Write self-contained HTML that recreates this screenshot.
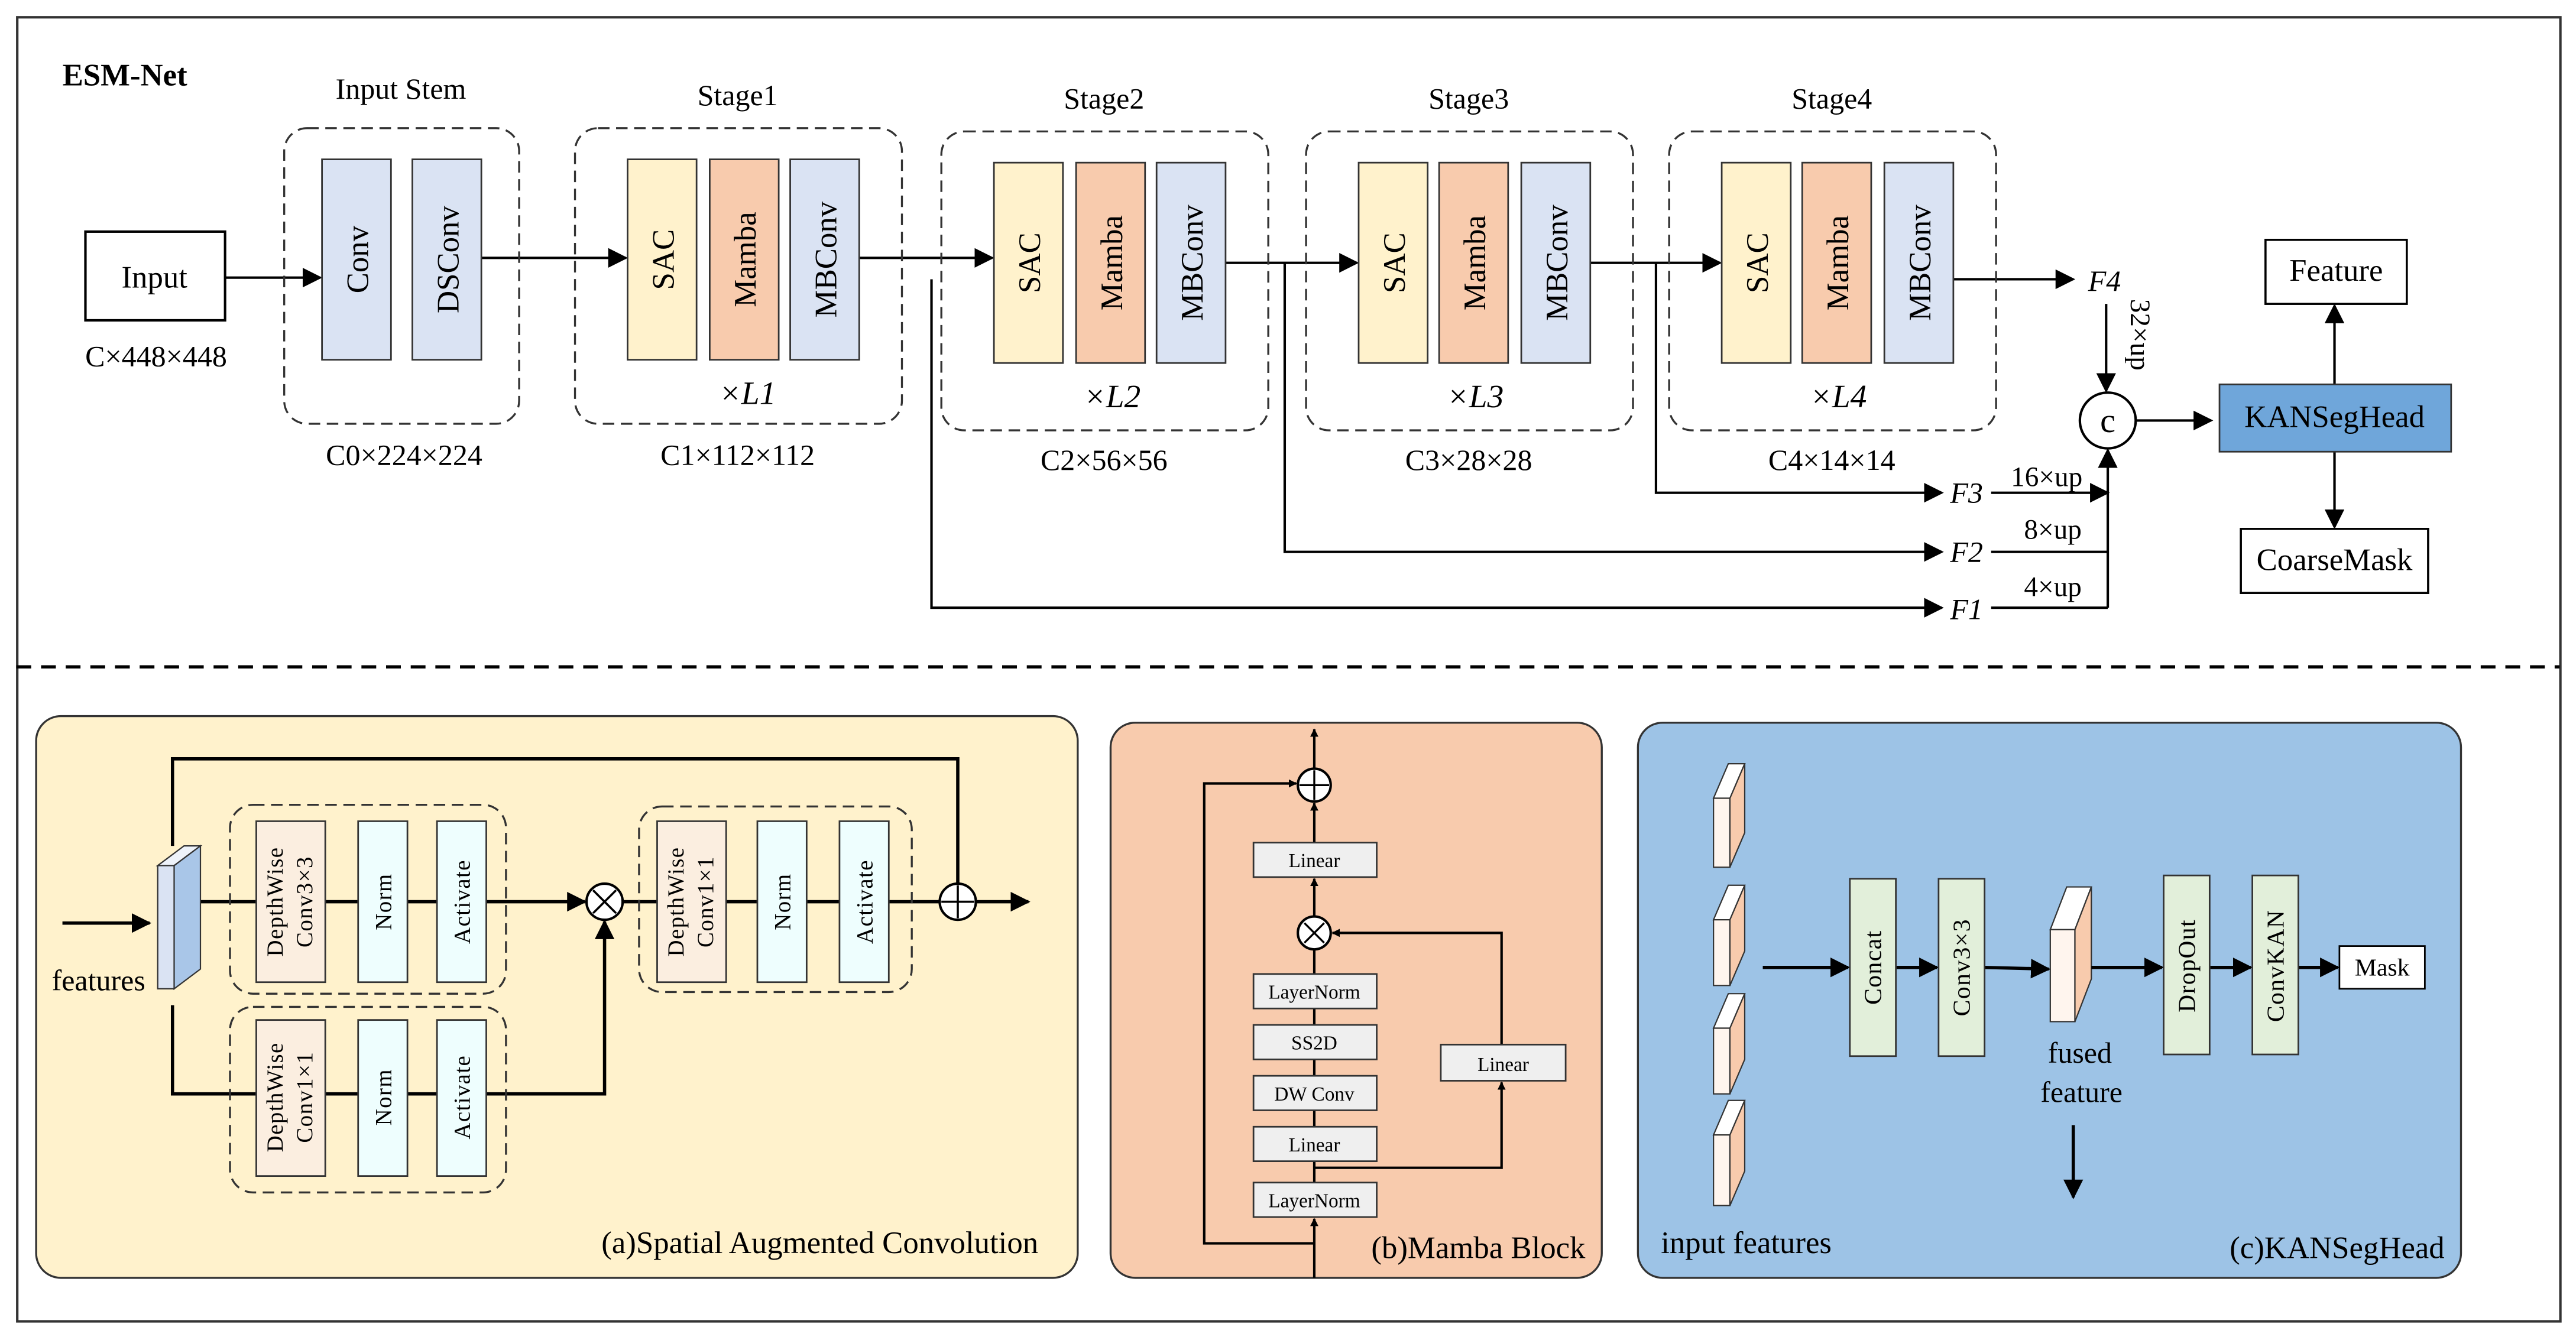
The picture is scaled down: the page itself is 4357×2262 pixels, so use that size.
<!DOCTYPE html>
<html><head><meta charset="utf-8"><style>html,body{margin:0;padding:0;background:#fff}svg{display:block}svg,svg text{font-family:"Liberation Serif",serif}</style></head><body>
<svg xmlns="http://www.w3.org/2000/svg" width="4357" height="2262" viewBox="0 0 1568 814" font-family="Liberation Serif, serif">
<defs>
<marker id="a" viewBox="0 0 10 10" refX="9" refY="5" markerWidth="5" markerHeight="5" orient="auto-start-reverse" markerUnits="userSpaceOnUse"><path d="M0,0 L10,5 L0,10 z" fill="#000"/></marker>
<marker id="b" viewBox="0 0 10 10" refX="9" refY="5" markerWidth="12" markerHeight="12" orient="auto" markerUnits="userSpaceOnUse"><path d="M0,0 L10,5 L0,10 z" fill="#000"/></marker>
</defs>
<rect x="0" y="0" width="1568" height="814" fill="#fff"/>
<rect x="10.5" y="10.5" width="1548" height="794" fill="none" stroke="#333" stroke-width="1.5"/>
<line x1="10" y1="406" x2="1558" y2="406" stroke="#000" stroke-width="2" stroke-dasharray="9,6"/>
<text x="38" y="52" font-size="19" font-weight="bold">ESM-Net</text>

<g stroke="#000" stroke-width="1.5" fill="none" marker-end="url(#b)">
<line x1="137" y1="169" x2="195" y2="169"/>
<line x1="293" y1="157" x2="381" y2="157"/>
<line x1="523" y1="157" x2="604" y2="157"/>
<line x1="746" y1="160" x2="826" y2="160"/>
<line x1="968" y1="160" x2="1047" y2="160"/>
<line x1="1189" y1="170" x2="1262" y2="170"/>
<polyline points="567,170 567,370 1182,370"/>
<polyline points="782,160 782,336 1182,336"/>
<polyline points="1008,160 1008,300 1182,300"/>
<line x1="1282" y1="185" x2="1282" y2="238"/>
<polyline points="1212,300 1283,300"/>
<line x1="1283" y1="370" x2="1283" y2="274"/>
<line x1="1300" y1="256" x2="1346" y2="256"/>
<line x1="1421" y1="234" x2="1421" y2="186"/>
<line x1="1421" y1="275" x2="1421" y2="321"/>
</g>
<g stroke="#000" stroke-width="1.5"><line x1="1212" y1="336" x2="1283" y2="336"/><line x1="1212" y1="370" x2="1283" y2="370"/></g>

<rect x="52" y="141" width="85" height="54" fill="#fff" stroke="#000" stroke-width="1.5"/>
<text x="94" y="175" font-size="19" text-anchor="middle">Input</text>
<text x="95" y="223" font-size="18" text-anchor="middle">C×448×448</text>

<g fill="none" stroke="#333" stroke-width="1.2" stroke-dasharray="7,4">
<rect x="173" y="78" width="143" height="180" rx="14"/>
<rect x="350" y="78" width="199" height="180" rx="14"/>
<rect x="573" y="80" width="199" height="182" rx="14"/>
<rect x="795" y="80" width="199" height="182" rx="14"/>
<rect x="1016" y="80" width="199" height="182" rx="14"/>
</g>
<g font-size="18" text-anchor="middle">
<text x="244" y="60">Input Stem</text><text x="449" y="64">Stage1</text><text x="672" y="66">Stage2</text><text x="894" y="66">Stage3</text><text x="1115" y="66">Stage4</text>
<text x="246" y="283">C0×224×224</text><text x="449" y="283">C1×112×112</text><text x="672" y="286">C2×56×56</text><text x="894" y="286">C3×28×28</text><text x="1115" y="286">C4×14×14</text>
<text x="455" y="246" font-style="italic" font-size="20">×L1</text><text x="677" y="248" font-style="italic" font-size="20">×L2</text><text x="898" y="248" font-style="italic" font-size="20">×L3</text><text x="1119" y="248" font-style="italic" font-size="20">×L4</text>
</g>
<g stroke="#333" stroke-width="1">
<rect x="196" y="97" width="42" height="122" fill="#dae3f3"/><rect x="251" y="97" width="42" height="122" fill="#dae3f3"/>
<rect x="382" y="97" width="42" height="122" fill="#fff2cc"/><rect x="432" y="97" width="42" height="122" fill="#f8cbad"/><rect x="481" y="97" width="42" height="122" fill="#dae3f3"/>
<rect x="605" y="99" width="42" height="122" fill="#fff2cc"/><rect x="655" y="99" width="42" height="122" fill="#f8cbad"/><rect x="704" y="99" width="42" height="122" fill="#dae3f3"/>
<rect x="827" y="99" width="42" height="122" fill="#fff2cc"/><rect x="876" y="99" width="42" height="122" fill="#f8cbad"/><rect x="926" y="99" width="42" height="122" fill="#dae3f3"/>
<rect x="1048" y="99" width="42" height="122" fill="#fff2cc"/><rect x="1097" y="99" width="42" height="122" fill="#f8cbad"/><rect x="1147" y="99" width="42" height="122" fill="#dae3f3"/>
</g>
<g font-size="19" text-anchor="middle">
<text transform="translate(224,158) rotate(-90)">Conv</text><text transform="translate(279,158) rotate(-90)">DSConv</text>
<text transform="translate(410,158) rotate(-90)">SAC</text><text transform="translate(460,158) rotate(-90)">Mamba</text><text transform="translate(509,158) rotate(-90)">MBConv</text>
<text transform="translate(633,160) rotate(-90)">SAC</text><text transform="translate(683,160) rotate(-90)">Mamba</text><text transform="translate(732,160) rotate(-90)">MBConv</text>
<text transform="translate(855,160) rotate(-90)">SAC</text><text transform="translate(904,160) rotate(-90)">Mamba</text><text transform="translate(954,160) rotate(-90)">MBConv</text>
<text transform="translate(1076,160) rotate(-90)">SAC</text><text transform="translate(1125,160) rotate(-90)">Mamba</text><text transform="translate(1175,160) rotate(-90)">MBConv</text>
</g>
<g font-size="18" font-style="italic">
<text x="1271" y="177">F4</text><text x="1187" y="306">F3</text><text x="1187" y="342">F2</text><text x="1187" y="377">F1</text>
</g>
<g font-size="17"><text x="1224" y="296">16×up</text><text x="1232" y="328">8×up</text><text x="1232" y="363">4×up</text>
<text transform="translate(1297,182) rotate(90)">32×up</text></g>
<circle cx="1283" cy="256" r="17" fill="#fff" stroke="#000" stroke-width="1.5"/>
<text x="1283" y="263" font-size="21" text-anchor="middle">c</text>
<rect x="1351" y="234" width="141" height="41" fill="#6fa6da" stroke="#333"/>
<text x="1421" y="260" font-size="19" text-anchor="middle">KANSegHead</text>
<rect x="1379" y="146" width="86" height="39" fill="#fff" stroke="#000" stroke-width="1.3"/>
<text x="1422" y="171" font-size="19" text-anchor="middle">Feature</text>
<rect x="1364" y="322" width="114" height="39" fill="#fff" stroke="#000" stroke-width="1.3"/>
<text x="1421" y="347" font-size="19" text-anchor="middle">CoarseMask</text>

<!-- Panel a -->
<rect x="22" y="436" width="634" height="342" rx="15" fill="#fff2cc" stroke="#333" stroke-width="1.2"/>
<g stroke="#000" stroke-width="2" fill="none">
<line x1="38" y1="562" x2="91" y2="562" marker-end="url(#b)"/>
<polyline points="105,515 105,462 583,462 583,538"/>
<line x1="122" y1="549" x2="356" y2="549" marker-end="url(#b)"/>
<polyline points="105,612 105,666 368,666 368,561" marker-end="url(#b)"/>
<line x1="379" y1="549" x2="572" y2="549"/>
<line x1="594" y1="549" x2="626" y2="549" marker-end="url(#b)"/>
</g>
<polygon points="96,527 112,515 122,515 106,527" fill="#eef3fa" stroke="#333" stroke-width="0.8"/>
<rect x="96" y="527" width="10" height="75" fill="#dae3f3" stroke="#333" stroke-width="0.8"/>
<polygon points="106,527 122,515 122,590 106,602" fill="#a9c6e8" stroke="#333" stroke-width="0.8"/>
<text x="60" y="603" font-size="18" text-anchor="middle">features</text>
<g fill="none" stroke="#333" stroke-width="1.2" stroke-dasharray="7,4">
<rect x="140" y="490" width="168" height="115" rx="14"/><rect x="140" y="613" width="168" height="113" rx="14"/><rect x="389" y="491" width="166" height="113" rx="14"/>
</g>
<g stroke="#333" stroke-width="1">
<rect x="156" y="500" width="42" height="98" fill="#fbeee0"/><rect x="218" y="500" width="30" height="98" fill="#eefefe"/><rect x="266" y="500" width="30" height="98" fill="#eefefe"/>
<rect x="156" y="621" width="42" height="95" fill="#fbeee0"/><rect x="218" y="621" width="30" height="95" fill="#eefefe"/><rect x="266" y="621" width="30" height="95" fill="#eefefe"/>
<rect x="400" y="500" width="42" height="98" fill="#fbeee0"/><rect x="461" y="500" width="30" height="98" fill="#eefefe"/><rect x="511" y="500" width="30" height="98" fill="#eefefe"/>
</g>
<g font-size="14" text-anchor="middle" letter-spacing="0.5">
<text transform="translate(172,549) rotate(-90)">DepthWise</text><text transform="translate(190,549) rotate(-90)">Conv3×3</text>
<text transform="translate(238,549) rotate(-90)">Norm</text><text transform="translate(286,549) rotate(-90)">Activate</text>
<text transform="translate(172,668) rotate(-90)">DepthWise</text><text transform="translate(190,668) rotate(-90)">Conv1×1</text>
<text transform="translate(238,668) rotate(-90)">Norm</text><text transform="translate(286,668) rotate(-90)">Activate</text>
<text transform="translate(416,549) rotate(-90)">DepthWise</text><text transform="translate(434,549) rotate(-90)">Conv1×1</text>
<text transform="translate(481,549) rotate(-90)">Norm</text><text transform="translate(531,549) rotate(-90)">Activate</text>
</g>
<circle cx="368" cy="549" r="11" fill="#fff" stroke="#000" stroke-width="1.5"/>
<path d="M361,542 L375,556 M375,542 L361,556" stroke="#000" stroke-width="1.3"/>
<circle cx="583" cy="549" r="11" fill="#fff" stroke="#000" stroke-width="1.5"/>
<path d="M573,549 H593 M583,539 V559" stroke="#000" stroke-width="1.3"/>
<text x="632" y="763" font-size="19" text-anchor="end">(a)Spatial Augmented Convolution</text>

<!-- Panel b -->
<rect x="676" y="440" width="299" height="338" rx="15" fill="#f8cbad" stroke="#333" stroke-width="1.2"/>
<g stroke="#000" stroke-width="1.5" fill="none">
<line x1="800" y1="778" x2="800" y2="742" marker-end="url(#a)"/>
<line x1="800" y1="741" x2="800" y2="558"/>
<line x1="800" y1="558" x2="800" y2="535" marker-end="url(#a)"/>
<line x1="800" y1="513" x2="800" y2="489" marker-end="url(#a)"/>
<line x1="800" y1="468" x2="800" y2="444" marker-end="url(#a)"/>
<polyline points="800,757 733,757 733,477 789,477" marker-end="url(#a)"/>
<polyline points="800,711 914,711 914,659" marker-end="url(#a)"/>
<polyline points="914,636 914,568 811,568" marker-end="url(#a)"/>
</g>
<g stroke="#333" stroke-width="1" fill="#efefef">
<rect x="763" y="513" width="75" height="21"/><rect x="763" y="593" width="75" height="21"/><rect x="763" y="624" width="75" height="21"/>
<rect x="763" y="655" width="75" height="21"/><rect x="763" y="686" width="75" height="21"/><rect x="763" y="720" width="75" height="21"/>
<rect x="877" y="636" width="76" height="22"/>
</g>
<g font-size="12" text-anchor="middle">
<text x="800" y="528">Linear</text><text x="800" y="608">LayerNorm</text><text x="800" y="639">SS2D</text><text x="800" y="670">DW Conv</text><text x="800" y="701">Linear</text><text x="800" y="735">LayerNorm</text><text x="915" y="652">Linear</text>
</g>
<circle cx="800" cy="568" r="10" fill="#fff" stroke="#000" stroke-width="1.5"/>
<path d="M794,562 L806,574 M806,562 L794,574" stroke="#000" stroke-width="1.2"/>
<circle cx="800" cy="478" r="10" fill="#fff" stroke="#000" stroke-width="1.5"/>
<path d="M791,478 H809 M800,469 V487" stroke="#000" stroke-width="1.2"/>
<text x="965" y="766" font-size="19" text-anchor="end">(b)Mamba Block</text>

<!-- Panel c -->
<rect x="997" y="440" width="501" height="338" rx="15" fill="#9dc3e6" stroke="#333" stroke-width="1.2"/>
<g stroke="#333" stroke-width="0.8">
<g><polygon points="1043,486 1052,465 1062,465 1053,486" fill="#fff"/><rect x="1043" y="486" width="10" height="42" fill="#fff5ee"/><polygon points="1053,486 1062,465 1062,507 1053,528" fill="#f8cbad"/></g>
<g><polygon points="1043,560 1052,539 1062,539 1053,560" fill="#fff"/><rect x="1043" y="560" width="10" height="40" fill="#fff5ee"/><polygon points="1053,560 1062,539 1062,579 1053,600" fill="#f8cbad"/></g>
<g><polygon points="1043,626 1052,605 1062,605 1053,626" fill="#fff"/><rect x="1043" y="626" width="10" height="40" fill="#fff5ee"/><polygon points="1053,626 1062,605 1062,645 1053,666" fill="#f8cbad"/></g>
<g><polygon points="1043,691 1052,670 1062,670 1053,691" fill="#fff"/><rect x="1043" y="691" width="10" height="43" fill="#fff5ee"/><polygon points="1053,691 1062,670 1062,713 1053,734" fill="#f8cbad"/></g>
<g><polygon points="1248,566 1258,540 1273,540 1263,566" fill="#fff"/><rect x="1248" y="566" width="15" height="56" fill="#fff5ee"/><polygon points="1263,566 1273,540 1273,596 1263,622" fill="#f8cbad"/></g>
</g>
<g stroke="#000" stroke-width="2" fill="none">
<line x1="1073" y1="589" x2="1125" y2="589" marker-end="url(#b)"/>
<line x1="1154" y1="589" x2="1179" y2="589" marker-end="url(#b)"/>
<line x1="1208" y1="589" x2="1247" y2="590" marker-end="url(#b)"/>
<line x1="1273" y1="589" x2="1316" y2="589" marker-end="url(#b)"/>
<line x1="1345" y1="589" x2="1370" y2="589" marker-end="url(#b)"/>
<line x1="1399" y1="589" x2="1423" y2="589" marker-end="url(#b)"/>
<line x1="1262" y1="685" x2="1262" y2="729" marker-end="url(#b)"/>
</g>
<g stroke="#333" stroke-width="1" fill="#e2efda">
<rect x="1126" y="535" width="28" height="108"/><rect x="1180" y="535" width="28" height="108"/><rect x="1317" y="533" width="28" height="109"/><rect x="1371" y="533" width="28" height="109"/>
</g>
<g font-size="15" text-anchor="middle" letter-spacing="0.5">
<text transform="translate(1145,589) rotate(-90)">Concat</text><text transform="translate(1199,589) rotate(-90)">Conv3×3</text>
<text transform="translate(1336,588) rotate(-90)">DropOut</text><text transform="translate(1390,588) rotate(-90)">ConvKAN</text>
</g>
<rect x="1424" y="576" width="52" height="26" fill="#fff" stroke="#000"/>
<text x="1450" y="594" font-size="15" text-anchor="middle">Mask</text>
<text x="1266" y="647" font-size="18" text-anchor="middle">fused</text>
<text x="1267" y="671" font-size="18" text-anchor="middle">feature</text>
<text x="1011" y="763" font-size="19">input features</text>
<text x="1488" y="766" font-size="19" text-anchor="end">(c)KANSegHead</text>
</svg>
</body></html>
